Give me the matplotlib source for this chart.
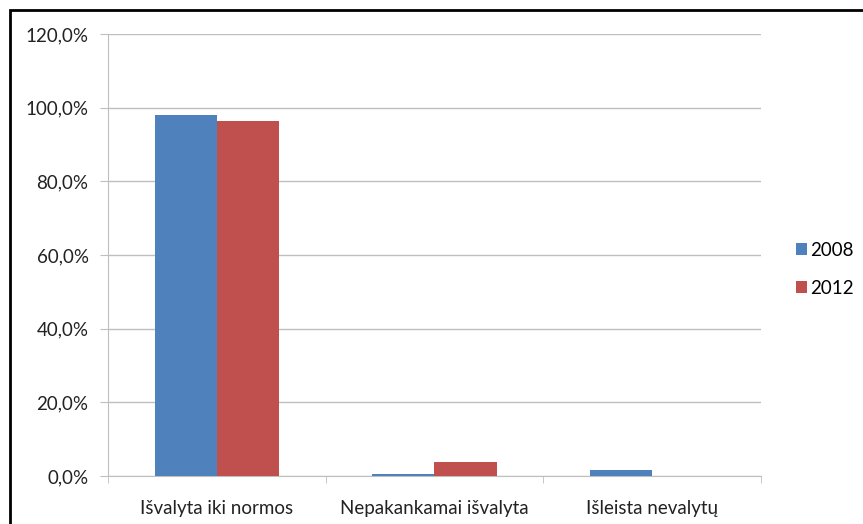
import numpy as np
import matplotlib.pyplot as plt
from matplotlib.patches import Rectangle
from matplotlib.ticker import FuncFormatter

plt.rcParams['font.family'] = ['Lato', 'DejaVu Sans']

categories = ['Išvalyta iki normos', 'Nepakankamai išvalyta', 'Išleista nevalytų']
years = ['2008', '2012']
values_2008 = [98.0, 0.5, 1.6]
values_2012 = [96.4, 3.8, 0.0]
colors = ['#4F81BD', '#C0504D']

fig = plt.figure(figsize=(8.63, 5.24), dpi=100)
ax = fig.add_axes([0.1251, 0.0916, 0.7567, 0.8435])

x = np.arange(len(categories))
w = 0.285
ax.bar(x - w / 2, values_2008, w, color=colors[0], label=years[0], zorder=3)
ax.bar(x + w / 2, values_2012, w, color=colors[1], label=years[1], zorder=3)

ax.set_xlim(-0.5, 2.5)
ax.set_ylim(0, 120)
ax.set_yticks(np.arange(0, 121, 20))
ax.yaxis.set_major_formatter(FuncFormatter(lambda v, p: f'{v:.1f}%'.replace('.', ',')))
ax.grid(axis='y', color='#BFBFBF', linewidth=1, zorder=0)

ax.set_xticks(x)
ax.set_xticklabels(categories)
ax.set_xticks([-0.5, 0.5, 1.5, 2.5], minor=True)
ax.tick_params(axis='x', which='major', length=0, pad=17, labelsize=13.5, labelcolor='#222222')
ax.tick_params(axis='x', which='minor', length=5, color='#BFBFBF')
ax.tick_params(axis='y', length=6, color='#BFBFBF', pad=8, labelsize=13.5, labelcolor='#222222')

for s in ['top', 'right']:
    ax.spines[s].set_visible(False)
ax.spines['left'].set_color('#BFBFBF')
ax.spines['bottom'].set_color('#BFBFBF')

ax.legend(loc='center left', bbox_to_anchor=(1.04, 0.468), frameon=False,
          fontsize=13.5, handlelength=0.55, handleheight=0.55, handletextpad=0.2,
          labelspacing=1.12, borderpad=0)

# outer frame
fig.patches.append(Rectangle((10 / 863, -0.1), 1.1, 1.1 - 10 / 524,
                             transform=fig.transFigure, fill=False,
                             edgecolor='black', linewidth=2))

fig.savefig('out.png', dpi=100)
